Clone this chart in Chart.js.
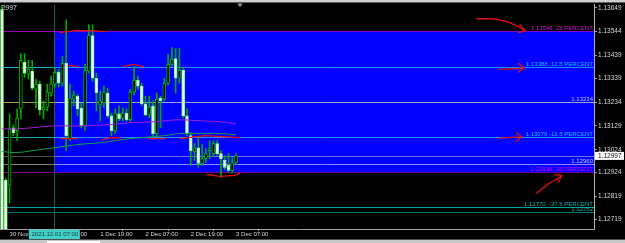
<!DOCTYPE html>
<html><head><meta charset="utf-8">
<script src="https://cdn.jsdelivr.net/npm/chart.js@4.4.0/dist/chart.umd.min.js"></script>
<style>html,body{margin:0;padding:0;background:#000;overflow:hidden}canvas{display:block}</style>
</head><body>
<canvas id="c" width="625" height="243"></canvas>
<script>
// ---- data (EURUSD H1, bar 0 = 30 Nov 17:00) ----
const opens  = [1.13640,1.12889,1.12868,1.13121,1.13108,1.13204,1.13409,1.13357,1.13370,1.13291,1.13313,1.13199,1.13212,1.13274,1.13313,1.13365,1.13317,1.13405,1.13073,1.13247,1.13260,1.13208,1.13129,1.13370,1.13527,1.13339,1.13221,1.13230,1.13274,1.13173,1.13108,1.13182,1.13164,1.13186,1.13156,1.13278,1.13330,1.13304,1.13226,1.13177,1.13217,1.13095,1.13252,1.13247,1.13317,1.13400,1.13426,1.13339,1.13374,1.13173,1.13086,1.13016,1.13033,1.12964,1.12985,1.13020,1.13007,1.13051,1.13007,1.12977,1.12955,1.12933,1.12968];
const highs  = [1.13666,1.12898,1.13182,1.13134,1.13204,1.13448,1.13448,1.13418,1.13418,1.13335,1.13326,1.13239,1.13313,1.13348,1.13387,1.13378,1.13435,1.13597,1.13313,1.13282,1.13269,1.13230,1.13400,1.13575,1.13575,1.13361,1.13282,1.13304,1.13295,1.13186,1.13204,1.13217,1.13208,1.13204,1.13291,1.13391,1.13348,1.13317,1.13260,1.13260,1.13239,1.13274,1.13260,1.13339,1.13444,1.13474,1.13470,1.13470,1.13387,1.13204,1.13099,1.13051,1.13077,1.13047,1.13029,1.13064,1.13064,1.13064,1.13020,1.12999,1.13007,1.12990,1.13007];
const lows   = [1.12620,1.12620,1.12789,1.13086,1.13064,1.13160,1.13343,1.13335,1.13287,1.13208,1.13177,1.13160,1.13195,1.13260,1.13300,1.13300,1.13304,1.13020,1.13064,1.13217,1.13173,1.13121,1.13108,1.13361,1.13326,1.13195,1.13151,1.13212,1.13164,1.13086,1.13095,1.13151,1.13151,1.13151,1.13147,1.13265,1.13291,1.13217,1.13173,1.13164,1.13086,1.13086,1.13121,1.13239,1.13308,1.13391,1.13274,1.13317,1.13164,1.13086,1.12955,1.12977,1.12946,1.12955,1.12968,1.12985,1.12994,1.12999,1.12902,1.12937,1.12924,1.12924,1.12959];
const closes = [1.12627,1.12627,1.13116,1.13099,1.13164,1.13418,1.13361,1.13378,1.13295,1.13313,1.13199,1.13212,1.13278,1.13313,1.13365,1.13317,1.13405,1.13086,1.13252,1.13265,1.13204,1.13129,1.13374,1.13527,1.13339,1.13274,1.13239,1.13278,1.13173,1.13108,1.13186,1.13160,1.13186,1.13156,1.13278,1.13330,1.13304,1.13226,1.13177,1.13212,1.13095,1.13247,1.13239,1.13317,1.13400,1.13422,1.13339,1.13374,1.13173,1.13095,1.13020,1.13033,1.12964,1.12985,1.13007,1.13029,1.13051,1.13007,1.12985,1.12946,1.12933,1.12968,1.12997];

const maSlowBars   = [0,4,8,14,21,28,34,40,43,47,53,58,62];
const maSlowValues = [1.13116,1.13116,1.13121,1.13129,1.13129,1.13134,1.13143,1.13147,1.13151,1.13156,1.13151,1.13147,1.13138];
const maFastBars   = [0,4,8,14,20,26,34,43,47,53,58,62];
const maFastValues = [1.13016,1.13012,1.13020,1.13033,1.13047,1.13055,1.13073,1.13086,1.13095,1.13095,1.13095,1.13090];

const priceTicks = [1.13649,1.13544,1.13439,1.13339,1.13234,1.13129,1.13024,1.12924,1.12819,1.12719];
const timeTickBars = [2,14,26,38,50,62];
const timeTickLabels = ['30 Nov 19:00','1 Dec 07:00','1 Dec 19:00','2 Dec 07:00','2 Dec 19:00','3 Dec 07:00'];

const levels      = [1.13546,1.13388,1.13234,1.13079,1.12997,1.12960,1.12924,1.12770,1.12752];
const levelLabels = ['1.13546  25 PERCENT','1.13388  12.5 PERCENT','1.13234','1.13079 -12.5 PERCENT','','1.12960','1.12938 -25 PERCENT','1.12770  -37.5 PERCENT','1.12752'];
const labelDrawOrder = [0,1,2,3,4,5,6,8,7];
const levelColorOut = ['#9a00b0','#10b8c8','#a8a048','#18a8a8','#505050','#808080','#800080','#00a0a0','#007878'];
const levelColorIn  = ['#8a00d0','#1e90ff','#a0a0c8','#2890ff','#7070d0','#8c8cff','#700090','#00a0a0','#007878'];
const labelColors   = ['#c020d0','#10c0ff','#c0c0c0','#10c0ff','','#c8c8e8','#e000e0','#20b2aa','#20b2aa'];

const zoneStartBar = 14, zoneTop = 1.13546, zoneBottom = 1.12924;
const vlineBar = 14, vlineLabel = '2021.12.01 07:00';
const bidPrice = 1.12997;
const xMin = -0.53, xMax = 156.82, yMin = 1.12675, yMax = 1.13662;

const redStrokes = [
  [[15.4,1.13540],[19.3,1.13549],[23.3,1.13549],[27.5,1.13544]],
  [[17.5,1.13396],[20.1,1.13391]],
  [[32.1,1.13391],[34.7,1.13400],[37.4,1.13391]],
  [[15.6,1.13073],[19.9,1.13073]],
  [[26.5,1.13068],[28.6,1.13077],[31.3,1.13077]],
  [[38.9,1.13073],[43.2,1.13073]],
  [[47.2,1.13073],[53.8,1.13086],[63.0,1.13077]],
  [[54.3,1.12915],[57.7,1.12907],[61.7,1.12911],[63.0,1.12920]],
  [[125.8,1.13601],[130.1,1.13601],[133.8,1.13588],[136.4,1.13570],[138.4,1.13551]],
  [[137.2,1.13575],[138.6,1.13549],[136.9,1.13540]],
  [[131.7,1.13378],[138.0,1.13383]],
  [[136.7,1.13405],[138.3,1.13385],[136.7,1.13365]],
  [[131.7,1.13075],[137.5,1.13081]],
  [[136.2,1.13099],[137.7,1.13081],[136.2,1.13060]],
  [[141.7,1.12833],[144.6,1.12872],[148.1,1.12907]],
  [[146.5,1.12915],[148.3,1.12911],[147.3,1.12880]]
];

// ---- build ----
const bull = opens.map((o,i)=>closes[i] > o);
const wickData = opens.map((o,i)=>({x:i, y:[lows[i], highs[i]]}));
const bodyData = opens.map((o,i)=>({x:i, y:[Math.min(o,closes[i]), Math.max(o,closes[i])]}));
const FONT = "'Liberation Sans', Arial, sans-serif";

const mt4 = {
  id:'mt4',
  beforeDraw(chart){
    const {ctx,width,height} = chart;
    ctx.save(); ctx.fillStyle='#000'; ctx.fillRect(0,0,width,height); ctx.restore();
  },
  beforeDatasetsDraw(chart){
    const {ctx, chartArea:a, scales:{x,y}} = chart;
    ctx.save();
    ctx.beginPath(); ctx.rect(a.left,a.top,a.right-a.left,a.bottom-a.top); ctx.clip();
    const rx = x.getPixelForValue(zoneStartBar);
    const rt = y.getPixelForValue(zoneTop), rb = y.getPixelForValue(zoneBottom);
    ctx.fillStyle='#0000ff';
    ctx.fillRect(rx, rt, a.right-rx, rb-rt);
    const vx = Math.round(x.getPixelForValue(vlineBar))-0.5;
    ctx.strokeStyle='#2c5656'; ctx.lineWidth=1.2;
    ctx.beginPath(); ctx.moveTo(vx,a.top); ctx.lineTo(vx,a.bottom); ctx.stroke();
    ctx.lineWidth=1;
    levels.forEach((lv,k)=>{
      const py = Math.round(y.getPixelForValue(lv))+0.5;
      const inside = lv<=zoneTop+1e-9 && lv>=zoneBottom-1e-9;
      ctx.strokeStyle = levelColorOut[k];
      ctx.beginPath(); ctx.moveTo(a.left,py); ctx.lineTo(inside?rx:a.right,py); ctx.stroke();
      if(inside){
        ctx.strokeStyle = levelColorIn[k];
        ctx.beginPath(); ctx.moveTo(rx,py); ctx.lineTo(a.right,py); ctx.stroke();
      }
    });
    ctx.font = "6px "+FONT; ctx.textAlign='right'; ctx.textBaseline='alphabetic';
    labelDrawOrder.forEach(k=>{
      const t = levelLabels[k]; if(!t) return;
      const py = Math.round(y.getPixelForValue(levels[k]));
      ctx.fillStyle = labelColors[k];
      ctx.fillText(t, a.right-1, py-1);
    });
    ctx.restore();
  },
  afterDatasetsDraw(chart){
    const {ctx, chartArea:a, scales:{x,y}} = chart;
    ctx.save();
    ctx.beginPath(); ctx.rect(a.left,a.top,a.right-a.left,a.bottom-a.top); ctx.clip();
    ctx.strokeStyle='#e01010'; ctx.lineWidth=1.3; ctx.lineCap='round'; ctx.lineJoin='round';
    redStrokes.forEach(s=>{
      ctx.beginPath();
      s.forEach((p,i)=>{ const px=x.getPixelForValue(p[0]), py=y.getPixelForValue(p[1]); i?ctx.lineTo(px,py):ctx.moveTo(px,py); });
      ctx.stroke();
    });
    ctx.restore();
  },
  afterDraw(chart){
    const {ctx, chartArea:a, scales:{x,y}, width} = chart;
    ctx.save();
    ctx.font = "7px "+FONT; ctx.fillStyle='#d0d0d0'; ctx.textAlign='right'; ctx.textBaseline='middle';
    ctx.fillText('1.12997', 17, 8.5);
    const vx = x.getPixelForValue(vlineBar);
    ctx.fillStyle='#40d0c8'; ctx.fillRect(vx-26, a.bottom+0.5, 51, 9.5);
    ctx.font = "6px "+FONT; ctx.fillStyle='#1c3c3c'; ctx.textAlign='center'; ctx.textBaseline='middle';
    ctx.fillText(vlineLabel, vx, a.bottom+5.5);
    const by = y.getPixelForValue(bidPrice);
    ctx.fillStyle='#ffffff'; ctx.fillRect(a.right+1, by-4, 29, 8);
    ctx.fillStyle='#000'; ctx.textAlign='left'; ctx.font="6.5px "+FONT;
    ctx.fillText(bidPrice.toFixed(5), a.right+4, by);
    ctx.fillStyle='#d0d0d0'; ctx.fillRect(0,0,width,2);
    ctx.fillStyle='#606060'; ctx.fillRect(0,2,width,1);
    ctx.fillStyle='#909090';
    ctx.beginPath(); ctx.moveTo(237,3.5); ctx.lineTo(243,3.5); ctx.lineTo(240,7); ctx.closePath(); ctx.fill();
    ctx.fillStyle='#505050'; ctx.fillRect(0,239,width,1);
    ctx.fillStyle='#c8c8c8'; ctx.fillRect(0,240,width,3);
    ctx.fillStyle='#ffffff'; ctx.fillRect(47,241,53,2);
    ctx.restore();
  }
};

new Chart(document.getElementById('c'), {
  type:'bar',
  data:{ datasets:[
    {type:'line', data: maSlowBars.map((b,i)=>({x:b,y:maSlowValues[i]})), borderColor:'#a020d0', borderWidth:1, pointRadius:0, tension:0.4, order:0},
    {type:'line', data: maFastBars.map((b,i)=>({x:b,y:maFastValues[i]})), borderColor:'#14a040', borderWidth:1, pointRadius:0, tension:0.4, order:1},
    {type:'bar', data: bodyData, backgroundColor: bull.map(b=>b?'#000000':'#eaffea'), borderColor: bull.map(b=>b?'#00b400':'#8ef08e'), borderWidth:1, borderSkipped:false, barThickness:3, grouped:false, order:2},
    {type:'bar', data: wickData, backgroundColor:'#00a800', barThickness:1, grouped:false, order:3}
  ]},
  options:{
    responsive:false, animation:false, devicePixelRatio:1, events:[],
    layout:{padding:{top:3,left:0,right:0,bottom:0}},
    plugins:{legend:{display:false}, tooltip:{enabled:false}},
    scales:{
      x:{ type:'linear', min:xMin, max:xMax, offset:false,
        afterFit(s){ s.height = 14; },
        afterBuildTicks(s){ s.ticks = timeTickBars.map(v=>({value:v})); },
        ticks:{ callback:(v,i)=>timeTickLabels[i], color:'#d8d8d8', font:{family:FONT,size:6}, align:'start', maxRotation:0, minRotation:0, autoSkip:false, padding:0 },
        grid:{ drawOnChartArea:false, tickLength:2, color:'#a0a0a0' },
        border:{ display:true, color:'#a0a0a0' } },
      y:{ type:'linear', position:'right', min:yMin, max:yMax,
        afterFit(s){ s.width = 31; },
        afterBuildTicks(s){ s.ticks = priceTicks.map(v=>({value:v})); },
        ticks:{ callback:v=>v.toFixed(5), color:'#d8d8d8', font:{family:FONT,size:6.5}, padding:1, autoSkip:false },
        grid:{ drawOnChartArea:false, tickLength:3, color:'#a0a0a0' },
        border:{ display:true, color:'#b0b0b0' } }
    }
  },
  plugins:[mt4]
});
</script>
</body></html>
